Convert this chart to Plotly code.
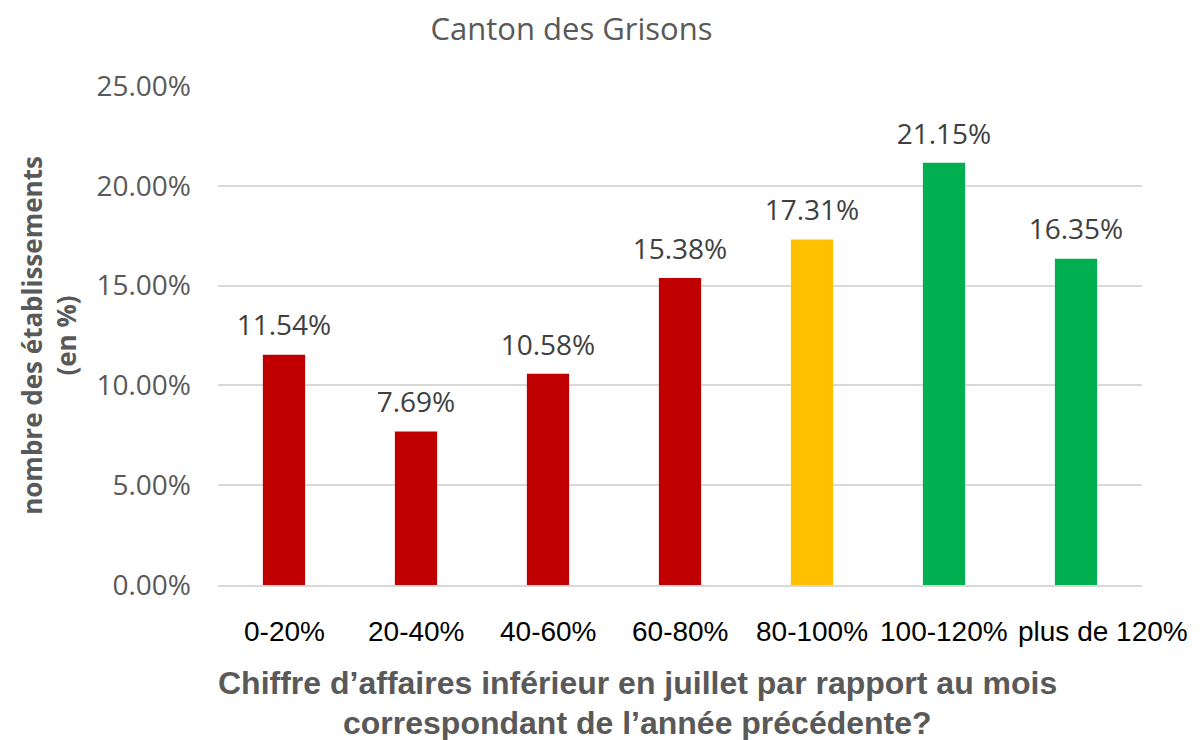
import plotly.graph_objects as go

categories = ["0-20%", "20-40%", "40-60%", "60-80%", "80-100%", "100-120%", "plus de 120%"]
values = [11.54, 7.69, 10.58, 15.38, 17.31, 21.15, 16.35]
colors = ["#C00000", "#C00000", "#C00000", "#C00000", "#FFC000", "#00B050", "#00B050"]
labels = [f"{v:.2f}%" for v in values]
y_ticks = [0, 5, 10, 15, 20, 25]
x_title = ["Chiffre d’affaires inférieur en juillet par rapport au mois",
           "correspondant de l’année précédente?"]

fig = go.Figure()
fig.add_trace(go.Bar(
    x=categories, y=values,
    marker=dict(color=colors, line=dict(width=0)),
    hoverinfo="x+y",
))
# data labels sit a little above the bar tops
fig.add_trace(go.Scatter(
    x=categories, y=values, mode="markers+text",
    text=labels, textposition="top center",
    marker=dict(size=18, color="rgba(0,0,0,0)"),
    textfont=dict(family="Open Sans", size=28, color="#404040"),
    cliponaxis=False, hoverinfo="skip",
))

# category labels drawn as annotations so the last one can slide right like in Excel
for i, cat in enumerate(categories):
    fig.add_annotation(
        text=cat, x=cat, xref="x", yref="paper", y=-0.094,
        xanchor="center", yanchor="middle", showarrow=False,
        xshift=27 if i == len(categories) - 1 else 0,
        font=dict(family="Liberation Sans", size=28, color="black"),
    )

for i, line in enumerate(x_title):
    fig.add_annotation(
        text=f"<b>{line}</b>", xref="paper", yref="paper",
        x=0.4535, y=-0.197 - 0.080 * i, xanchor="center", yanchor="middle",
        showarrow=False,
        font=dict(family="Liberation Sans", size=32, color="#595959"),
    )

fig.update_layout(
    width=1204, height=740,
    plot_bgcolor="white", paper_bgcolor="white",
    margin=dict(l=210, r=70, t=78, b=163),
    bargap=0.68,
    showlegend=False,
    title=dict(text="Canton des Grisons", x=0.468, xanchor="center", y=0.972, yanchor="middle",
               font=dict(family="Open Sans", size=31, color="#595959")),
    xaxis=dict(
        range=[-0.5, len(categories) - 0.5],
        showticklabels=False, tickangle=0,
        showline=True, linecolor="#D9D9D9", linewidth=2,
    ),
    yaxis=dict(
        range=[0, 25], tickvals=y_ticks, ticktext=[f"{t:.2f}%" for t in y_ticks],
        tickfont=dict(family="Open Sans", size=28, color="#595959"),
        ticklabelstandoff=26,
        gridcolor="#D9D9D9", gridwidth=2, zeroline=False,
        title=dict(text="<b>nombre des établissements<br>(en %)</b>",
                   font=dict(family="Open Sans", size=26, color="#595959"), standoff=12),
    ),
)

fig.write_html("out.html")
